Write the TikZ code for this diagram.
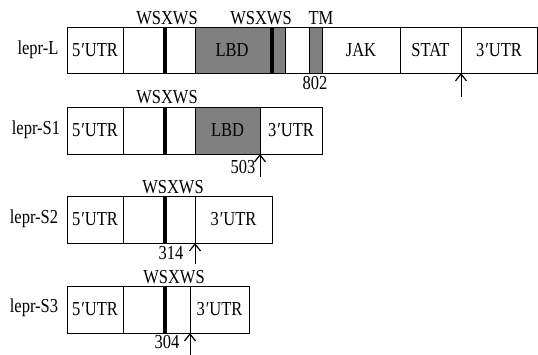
\documentclass[tikz,border=0pt]{standalone}
\usepackage{fontspec}
\setmainfont{Liberation Serif}
\usetikzlibrary{arrows.meta}
\definecolor{lbdgray}{RGB}{128,128,128}
\newcommand{\st}[1]{\scalebox{1}[1.2]{#1}}
\newcommand{\segbox}[7]{\node[segbase,#6,minimum width={(#3-#2)*1pt},minimum height={(#5-#4)*1pt}] (#1) at ({(#2+#3)/2},{(#4+#5)/2}) {#7};}
\tikzset{
  segbase/.style={draw=black,line width=0.9pt,inner sep=0pt,outer sep=0pt,rectangle,font=\fontsize{16.5}{18}\selectfont},
  white/.style={fill=white},
  grayseg/.style={fill=lbdgray},
  bar/.style={fill=black,draw=none},
  txt/.style={inner sep=0pt,font=\fontsize{16.5}{18}\selectfont},
  arr/.style={line width=1pt,-{Straight Barb[length=7pt,width=11pt,line width=1.2pt]}}
}
\begin{document}
\begin{tikzpicture}[x=1pt,y=-1pt]
\useasboundingbox (0,0) rectangle (538,355);
% ---------- lepr-L ----------
\node[txt] (nL) at (38,50) {\st{lepr-L}};
\segbox{L1}{67}{123}{27}{73}{white}{\st{5\kern1pt′UTR}}
\segbox{L2}{123}{195}{27}{73}{white}{}
\segbox{L2b}{163}{167}{27}{73}{bar}{}
\segbox{L3}{195}{285}{27}{73}{grayseg}{}
\node[txt] (L3t) at (232,50) {\st{LBD}};
\segbox{L3b}{270}{274}{27}{73}{bar}{}
\segbox{L4}{285}{309}{27}{73}{white}{}
\segbox{L5}{309}{322}{27}{73}{grayseg}{}
\segbox{L6}{322}{400}{27}{73}{white}{\st{JAK}}
\segbox{L7}{400}{461}{27}{73}{white}{\st{STAT}}
\segbox{L8}{461}{537}{27}{73}{white}{\st{3\kern1pt′UTR}}
\node[txt] (wL1) at (167,18) {\st{WSXWS}};
\node[txt] (wL2) at (261,18) {\st{WSXWS}};
\node[txt] (tmL) at (321,18) {\st{TM}};
\node[txt] (n802) at (315,83) {\st{802}};
\coordinate (aL) at (461,97);
\draw[arr] (aL) -- (L8.south west);
% ---------- lepr-S1 ----------
\node[txt] (nS1) at (36,130) {\st{lepr-S1}};
\segbox{A1}{67}{123}{107}{154}{white}{\st{5\kern1pt′UTR}}
\segbox{A2}{123}{195}{107}{154}{white}{}
\segbox{A2b}{163}{167}{107}{154}{bar}{}
\segbox{A3}{195}{260}{107}{154}{grayseg}{\st{LBD}}
\segbox{A4}{260}{322}{107}{154}{white}{\st{3\kern1pt′UTR}}
\node[txt] (wA) at (167,97) {\st{WSXWS}};
\node[txt] (n503) at (243,167) {\st{503}};
\coordinate (aA) at (260,177);
\draw[arr] (aA) -- (A4.south west);
% ---------- lepr-S2 ----------
\node[txt] (nS2) at (34,219) {\st{lepr-S2}};
\segbox{B1}{67}{123}{196}{243}{white}{\st{5\kern1pt′UTR}}
\segbox{B2}{123}{195}{196}{243}{white}{}
\segbox{B2b}{163}{167}{196}{243}{bar}{}
\segbox{B3}{195}{272}{196}{243}{white}{\st{3\kern1pt′UTR}}
\node[txt] (wB) at (173,187) {\st{WSXWS}};
\node[txt] (n314) at (171,253) {\st{314}};
\coordinate (aB) at (195,264);
\draw[arr] (aB) -- (B3.south west);
% ---------- lepr-S3 ----------
\node[txt] (nS3) at (34,308) {\st{lepr-S3}};
\segbox{C1}{67}{123}{286}{333}{white}{\st{5\kern1pt′UTR}}
\segbox{C2}{123}{190}{286}{333}{white}{}
\segbox{C2b}{163}{167}{286}{333}{bar}{}
\segbox{C3}{190}{249}{286}{333}{white}{\st{3\kern1pt′UTR}}
\node[txt] (wC) at (174,277) {\st{WSXWS}};
\node[txt] (n304) at (167,342) {\st{304}};
\coordinate (aC) at (190,355);
\draw[arr] (aC) -- (C3.south west);
\end{tikzpicture}
\end{document}
